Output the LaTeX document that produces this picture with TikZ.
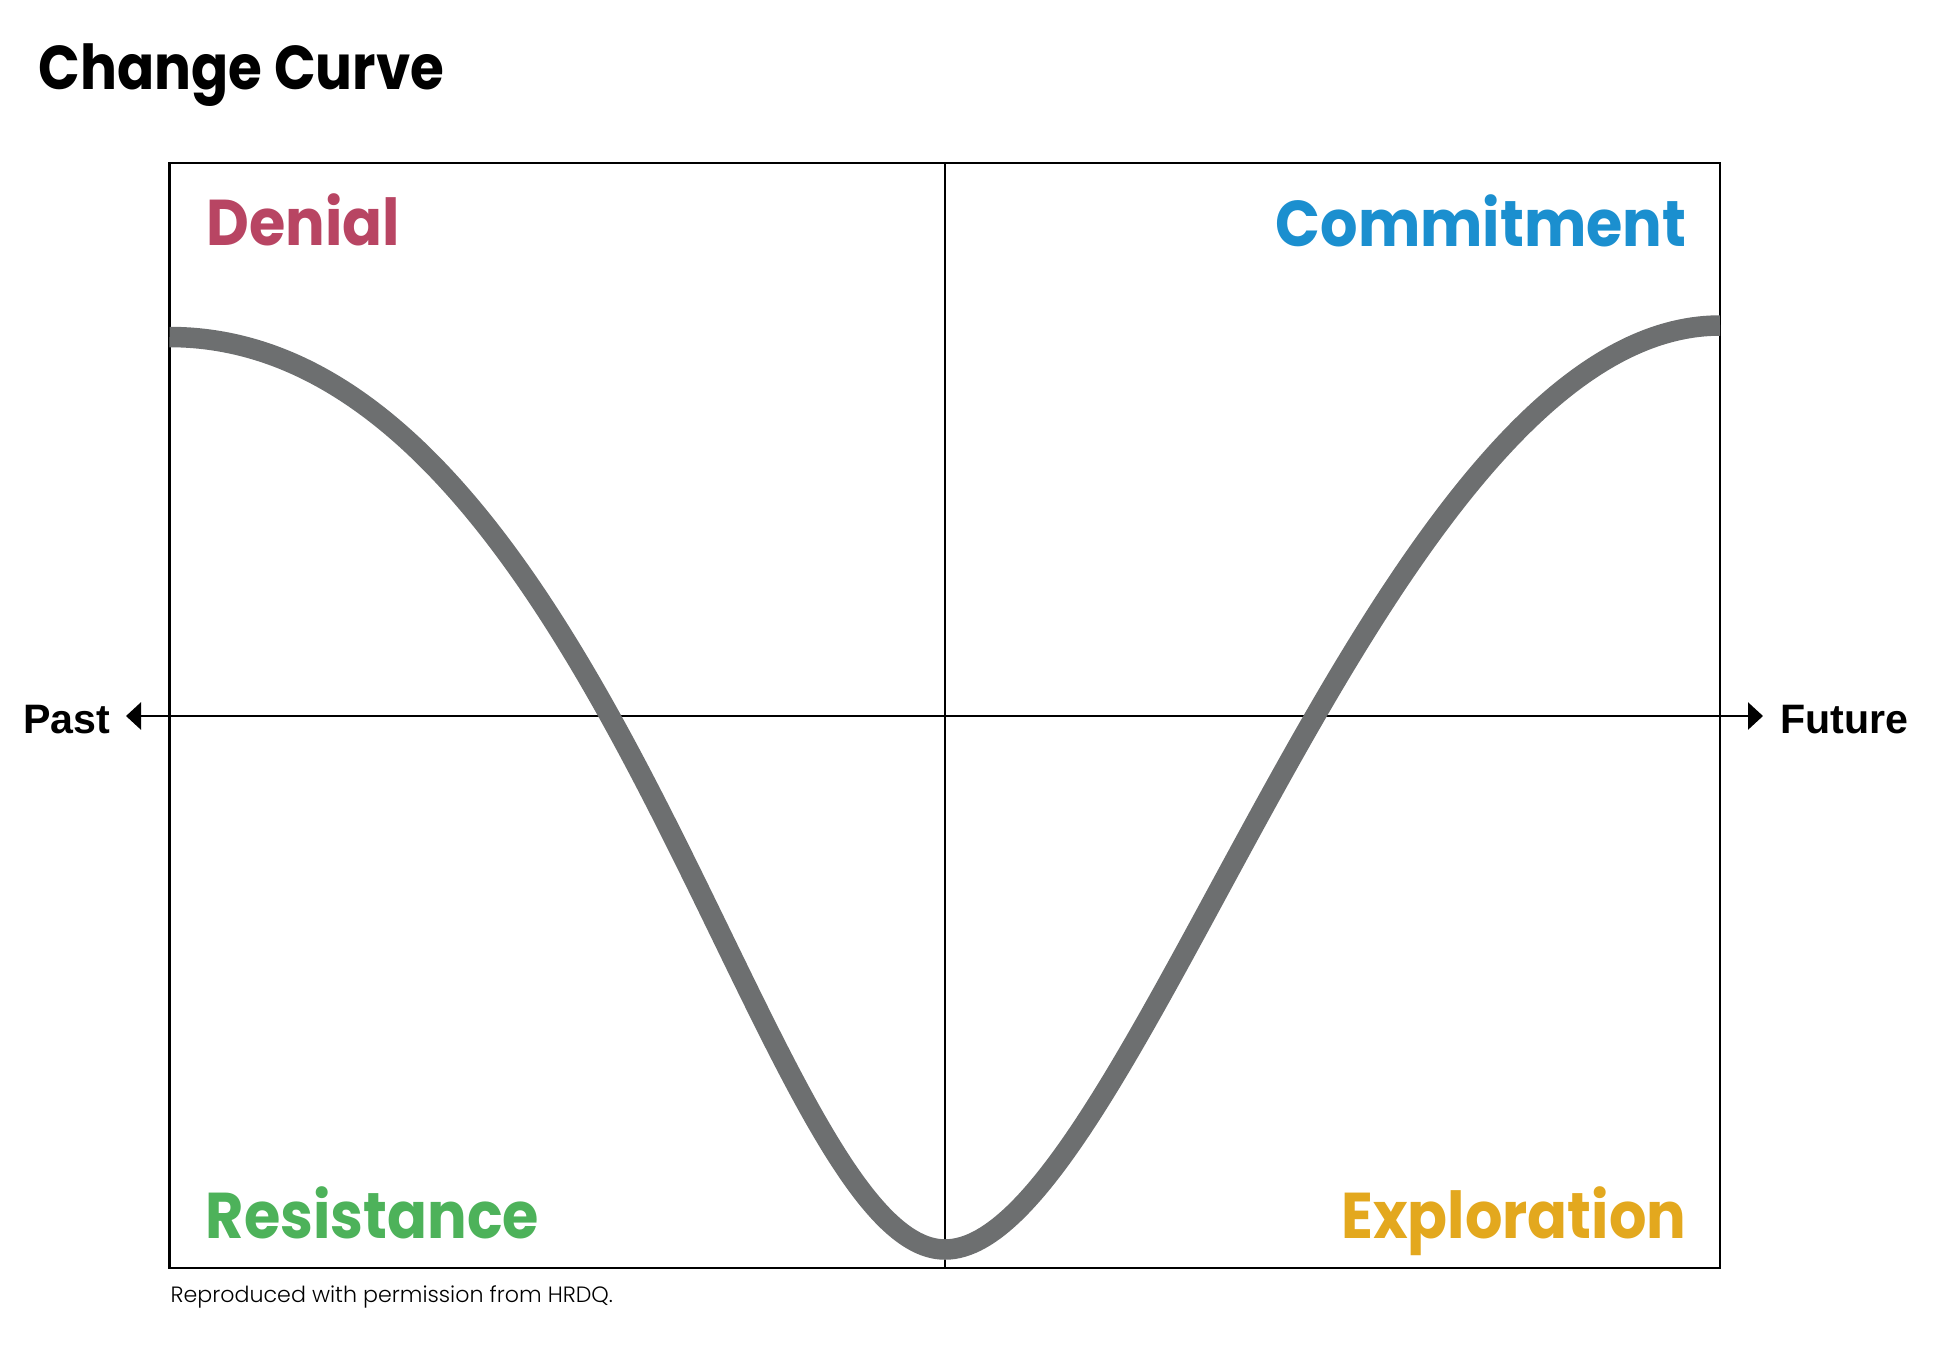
\documentclass[tikz,border=0pt]{standalone}
\usepackage{fontspec}
\usetikzlibrary{arrows.meta}
\newfontfamily\stagefont{Poppins}[FakeStretch=0.91]
\newfontfamily\titlefont{Poppins}[FakeStretch=0.885]
\newfontfamily\notefont{Poppins}[UprightFont=* Light]
\newfontfamily\axisfont{Liberation Sans}
\definecolor{denialred}{HTML}{B84563}
\definecolor{commitblue}{HTML}{1B8FCF}
\definecolor{resistgreen}{HTML}{4DB25A}
\definecolor{explorgold}{HTML}{E3A81E}
\definecolor{curvegray}{HTML}{6D6F70}
\begin{document}
\begin{tikzpicture}[x=0.01cm,y=-0.01cm,
    stage/.style={font=\stagefont\bfseries\fontsize{18.4}{20}\selectfont, inner sep=0},
    timelabel/.style={font=\axisfont\bfseries\fontsize{11.7}{13}\selectfont, inner sep=0},
    axistip/.tip={Triangle[length=0.15cm,width=0.27cm]}]
    \useasboundingbox (0,0) rectangle (1938,1344);

    % Title
    \node[anchor=base west, inner sep=0, font=\titlefont\bfseries\fontsize{17.6}{19}\selectfont] (title) at (38,89.5) {Change Curve};

    % Frame
    \coordinate (boxNW) at (169.5,163);
    \coordinate (boxSE) at (1720,1268);
    \coordinate (midN) at (945,163);
    \coordinate (midS) at (945,1268);
    \draw[line width=0.7pt] (boxNW) rectangle (boxSE);
    \draw[line width=0.55pt] (midN) -- (midS);

    % Axis
    \coordinate (pastTip) at (126,716);
    \coordinate (futureTip) at (1763,716);
    \draw[line width=0.75pt, axistip-axistip] (pastTip) -- (futureTip);
    \node[timelabel, anchor=base east] (past) at (111,733) {Past};
    \node[timelabel, anchor=base west] (future) at (1780,733) {Future};

    % Labels for stages
    \node[stage, anchor=base west, text=denialred] (denial) at (206,245) {Denial};
    \node[stage, anchor=base east, text=commitblue] (commitment) at (1687,246) {Commitment};
    \node[stage, anchor=base west, text=resistgreen] (resistance) at (205,1238) {Resistance};
    \node[stage, anchor=base east, text=explorgold] (exploration) at (1687,1238) {Exploration};

    % Curve
    \coordinate (start) at (169.5,337);
    \coordinate (low) at (945,1249.5);
    \coordinate (finish) at (1720,325.5);
    \draw[curvegray, line width=5.83pt] (start) .. controls (599.5,337) and (765,1249.5) .. (low)
        .. controls (1131,1249.5) and (1380,325.5) .. (finish);

    % Note
    \node[anchor=base west, inner sep=0, font=\notefont\fontsize{6.3}{7.5}\selectfont] (note) at (170,1302) {Reproduced with permission from HRDQ.};
\end{tikzpicture}
\end{document}
